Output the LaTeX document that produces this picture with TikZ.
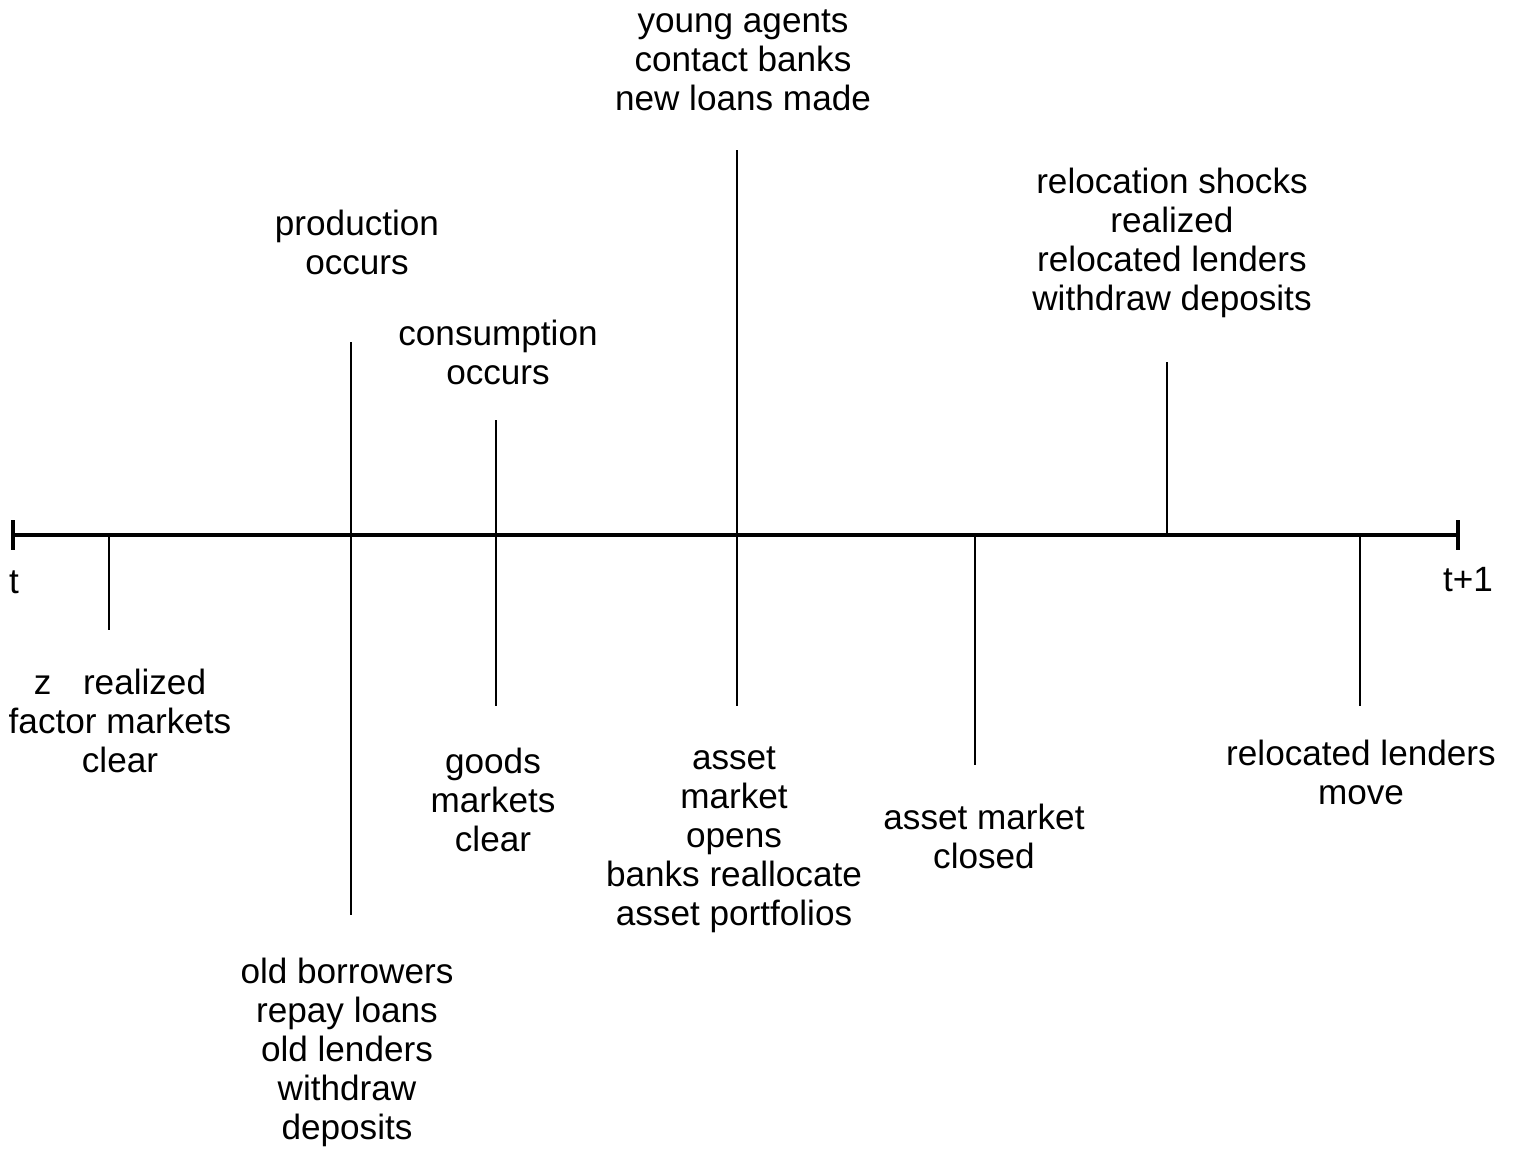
\documentclass[tikz,border=0pt]{standalone}
\usepackage{fontspec}
\setmainfont{Liberation Sans}
\usetikzlibrary{calc}
\tikzset{event/.style={align=center,inner sep=0pt,font=\fontsize{20}{22.2}\selectfont},
  tick/.style={line width=1.1pt}}

\begin{document}
\begin{tikzpicture}[x=0.02cm,y=-0.02cm]
\useasboundingbox (0,0) rectangle (1514,1150);
\path
  (13,535) coordinate (T0)
  (1458,535) coordinate (T1);
\draw[line width=2.6pt] (T0) -- (T1);
\draw[line width=2.6pt] (T0) ++(0,-15) -- ++(0,30);
\draw[line width=2.6pt] (T1) ++(0,-15) -- ++(0,30);
\node[event] (t0) at (14,582) {t};
\node[event] (t1) at (1468,580) {t+1};

% event lines
\foreach \name/\x/\a/\b in {zr/109/535/630,pr/351/342/915,co/496/420/706,
  ya/737/150/706,am/975/535/765,rs/1167/362/535,rm/1360/535/706}
  \draw[tick] (\x,\a) coordinate (\name top) -- (\x,\b) coordinate (\name bot);

% above the line
\node[event] (prod) at (357,242) {production\\occurs};
\node[event] (cons) at (498,352) {consumption\\occurs};
\node[event] (young) at (743,60) {young agents\\contact banks\\new loans made};
\node[event] (reloc) at (1172,243) {relocation shocks\\realized\\relocated lenders\\withdraw deposits};

% below the line
\node[event] (zreal) at (120,721) {z\hspace{0.9em}realized\\factor markets\\clear};
\node[event] (old) at (347,1052) {old borrowers\\repay loans\\old lenders\\withdraw\\deposits};
\node[event] (goods) at (493,800) {goods\\markets\\clear};
\node[event] (asset) at (734,840) {asset\\market\\opens\\banks reallocate\\asset portfolios};
\node[event] (closed) at (984,836) {asset market\\closed};
\node[event] (move) at (1361,772) {relocated lenders\\move};
\end{tikzpicture}
\end{document}
